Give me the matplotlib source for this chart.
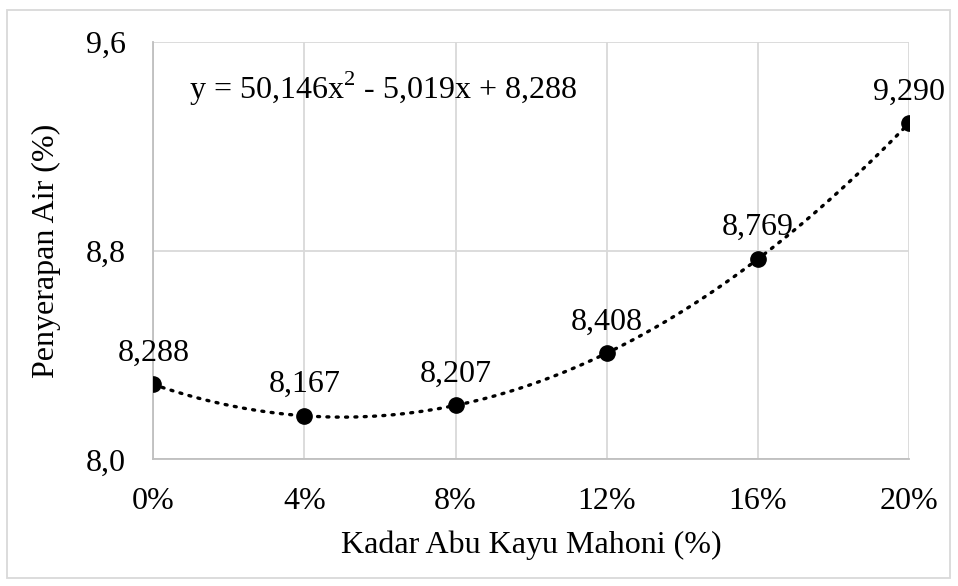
import matplotlib.pyplot as plt
import numpy as np
from matplotlib.patches import Rectangle

# data
kadar = [0.00, 0.04, 0.08, 0.12, 0.16, 0.20]
serapan = [8.288, 8.167, 8.207, 8.408, 8.769, 9.290]
x_ticks = [0.00, 0.04, 0.08, 0.12, 0.16, 0.20]
x_labels = ['0%', '4%', '8%', '12%', '16%', '20%']
y_ticks = [8.0, 8.8, 9.6]
y_labels = ['8,0', '8,8', '9,6']
equation = 'y = 50,146x$^2$ - 5,019x + 8,288'

FS = 23

plt.rcParams['font.family'] = ['Liberation Serif', 'DejaVu Serif']
plt.rcParams['mathtext.fontset'] = 'custom'
plt.rcParams['mathtext.rm'] = 'Liberation Serif'

fig = plt.figure(figsize=(9.58, 5.86), dpi=100)
ax = fig.add_axes([0.160, 0.216, 0.789, 0.712])

# polynomial trend line
coef = np.polyfit(kadar, serapan, 2)
xs = np.linspace(0, 0.2, 200)
ax.plot(xs, np.polyval(coef, xs), color='black', linestyle=(0, (0.6, 2.2)),
        linewidth=2.4, dash_capstyle='round', zorder=2)
ax.plot(kadar, serapan, 'o', color='black', markersize=11, zorder=3)

for xv, yv in zip(kadar, serapan):
    ax.annotate(f'{yv:.3f}'.replace('.', ','), (xv, yv), xytext=(0, 12),
                textcoords='offset points', ha='center', va='bottom', fontsize=FS)

ax.text(0.0095, 9.42, equation, fontsize=FS, ha='left', va='center')

ax.set_xlim(0, 0.2)
ax.set_ylim(8.0, 9.6)
ax.set_xticks(x_ticks)
ax.set_xticklabels(x_labels)
ax.set_yticks(y_ticks)
ax.set_yticklabels(y_labels)
ax.tick_params(length=0, labelsize=FS, pad=20)
ax.tick_params(axis='y', pad=20)
ax.grid(True, color='#d9d9d9', linewidth=1.3)
ax.set_axisbelow(True)
for s in ax.spines.values():
    s.set_visible(False)
ax.spines['left'].set_visible(True)
ax.spines['bottom'].set_visible(True)
ax.spines['left'].set_color('#bfbfbf')
ax.spines['bottom'].set_color('#bfbfbf')
ax.spines['left'].set_linewidth(1.3)
ax.spines['bottom'].set_linewidth(1.3)

ax.set_xlabel('Kadar Abu Kayu Mahoni (%)', fontsize=FS, labelpad=10)
ax.set_ylabel('Penyerapan Air (%)', fontsize=FS, labelpad=18)

fig.patches.append(Rectangle((7 / 958, 8 / 586), 943 / 958, 568 / 586,
                             transform=fig.transFigure, fill=False,
                             edgecolor='#d9d9d9', linewidth=1.3))

fig.savefig('out.png', dpi=100)
